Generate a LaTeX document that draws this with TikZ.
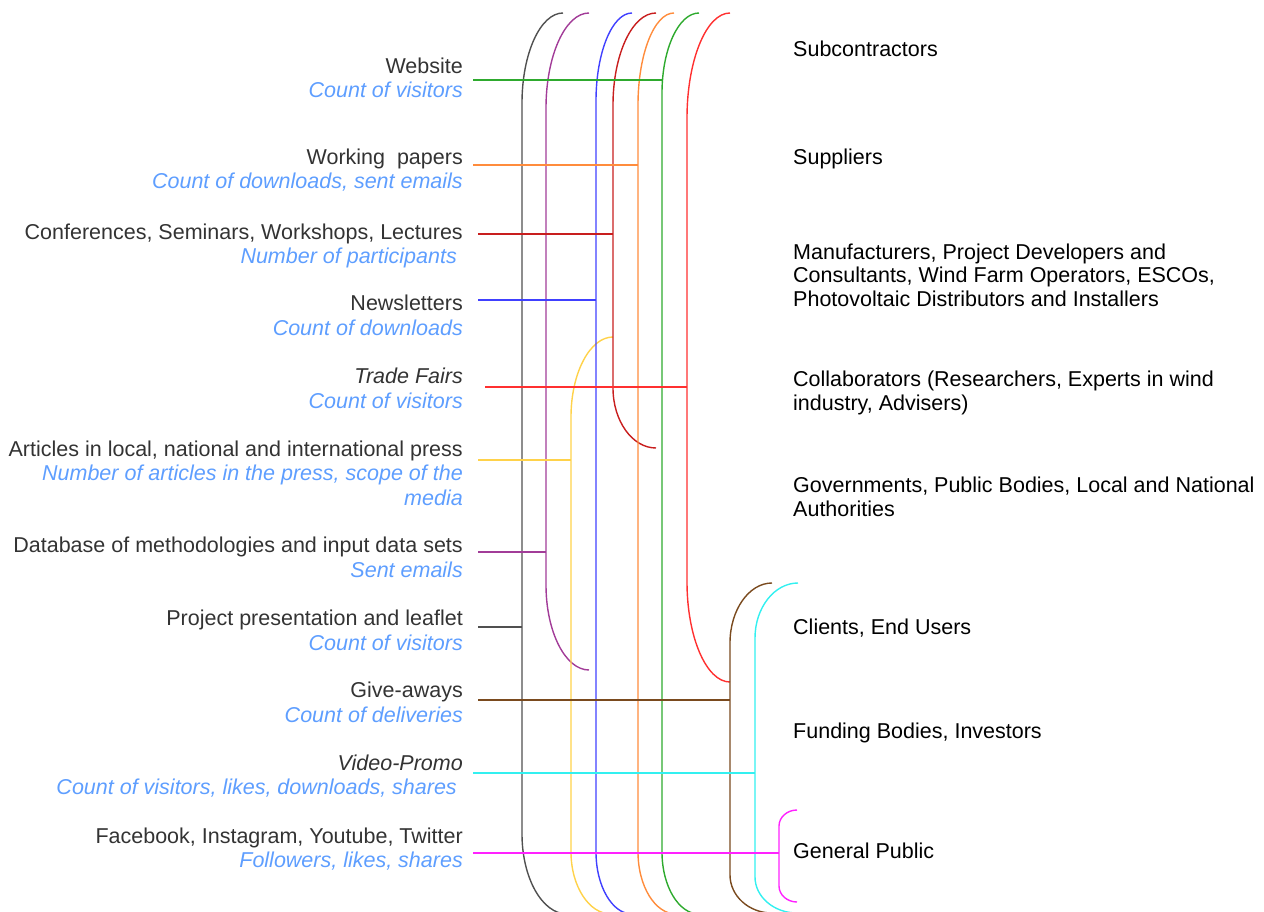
\documentclass[tikz,border=0pt]{standalone}
\usepackage{fontspec}
\setmainfont{Liberation Sans}

\definecolor{txtgray}{HTML}{333333}
\definecolor{kpiblue}{HTML}{5E9EFF}
\definecolor{cblack}{HTML}{505050}
\definecolor{cpurple}{HTML}{A23C98}
\definecolor{cgold}{HTML}{FFD24A}
\definecolor{cblue}{HTML}{4040FF}
\definecolor{cdkred}{HTML}{C81E1E}
\definecolor{corange}{HTML}{FF8C3C}
\definecolor{cgreen}{HTML}{2EAA2E}
\definecolor{clred}{HTML}{FF3030}
\definecolor{cbrown}{HTML}{7A4A1E}
\definecolor{ccyan}{HTML}{33F0F0}
\definecolor{cmagenta}{HTML}{FF22FF}

\newcommand{\kpi}[1]{{\color{kpiblue}\itshape #1}}

\begin{document}
\begin{tikzpicture}[x=1pt,y=-1pt]
        % Styles
        \tikzstyle{channel}=[anchor=base east,align=right,inner sep=0pt,text=txtgray,font=\fontsize{21.5}{24.5}\selectfont]
        \tikzstyle{group}=[anchor=base west,align=left,inner sep=0pt,font=\fontsize{21.5}{23.5}\selectfont]
        \tikzstyle{brace}=[line width=1.4pt]
        \tikzstyle{link}=[line width=1.5pt]
        \useasboundingbox (0,0) rectangle (1264,912);
        %braces: name/colour/x/top radius/top/top height/bottom radius/bottom/bottom height
        \foreach \n/\col/\x/\rx/\ya/\ha/\rb/\yb/\hb in {
            b-black/cblack/522/41/13/90/45/914/80,
            b-purple/cpurple/546/43/13/95/43/670/85,
            b-gold/cgold/571/42/337/80/40/914/62,
            b-blue/cblue/596/36/13/88/36/914/62,
            b-dkred/cdkred/613/43/13/92/43/448/60,
            b-orange/corange/638/36/13/92/38/914/62,
            b-green/cgreen/662/37/13/80/37/914/62,
            b-lred/clred/687/43/13/105/43/682/100,
            b-brown/cbrown/730/42/583/60/42/913/38,
            b-cyan/ccyan/755/43/583/55/42/913/36,
            b-pink/cmagenta/779/18/810/16/18/902/16}
        {
            \draw[brace,\col] (\x+\rx,\ya) .. controls (\x+0.45*\rx,\ya) and (\x,\ya+0.45*\ha) .. (\x,\ya+\ha)
                -- (\x,\yb-\hb) .. controls (\x,\yb-0.45*\hb) and (\x+0.45*\rb,\yb) .. (\x+\rb,\yb);
            \coordinate (\n) at (\x,\ya+\ha);
        }
        %channels (placed at the baseline of their last line)
        \node[channel] (web) at (463,98) {Website\\\kpi{Count of visitors}};
        \node[channel] (papers) at (463,189) {Working\ \ papers\\\kpi{Count of downloads, sent emails}};
        \node[channel] (conf) at (463,263.5) {Conferences, Seminars, Workshops, Lectures\\\kpi{Number of participants}\hspace*{6pt}};
        \node[channel] (news) at (463,335) {Newsletters\\\kpi{Count of downloads}};
        \node[channel] (trade) at (463,408) {{\itshape Trade Fairs}\\\kpi{Count of visitors}};
        \node[channel] (press) at (463,505) {Articles in local, national and international press\\\kpi{Number of articles in the press, scope of the}\\\kpi{media}};
        \node[channel] (data) at (463,577) {Database of methodologies and input data sets\\\kpi{Sent emails}};
        \node[channel] (leaflet) at (463,650) {Project presentation and leaflet\\\kpi{Count of visitors}};
        \node[channel] (gifts) at (463,722) {Give-aways\\\kpi{Count of deliveries}};
        \node[channel] (video) at (463,794.5) {{\itshape Video-Promo}\\\kpi{Count of visitors, likes, downloads, shares}\hspace*{6pt}};
        \node[channel] (social) at (463,867.5) {Facebook, Instagram, Youtube, Twitter\\\kpi{Followers, likes, shares}};
        %stakeholders
        \node[group] (subc) at (793,57) {Subcontractors};
        \node[group] (supp) at (793,165) {Suppliers};
        \node[group] (manuf) at (793,306) {Manufacturers, Project Developers and\\Consultants, Wind Farm Operators, ESCOs,\\Photovoltaic Distributors and Installers};
        \node[group] (collab) at (793,410) {Collaborators (Researchers, Experts in wind\\industry, Advisers)};
        \node[group] (gov) at (793,516) {Governments, Public Bodies, Local and National\\Authorities};
        \node[group] (clients) at (793,634) {Clients, End Users};
        \node[group] (funding) at (793,738) {Funding Bodies, Investors};
        \node[group] (public) at (793,858) {General Public};
        %links from channels to braces
        \foreach \n/\col/\y/\xa/\br in {web/cgreen/80/473/b-green, papers/corange/165/473/b-orange,
            conf/cdkred/234/478/b-dkred, news/cblue/300/478/b-blue, trade/clred/387/485/b-lred,
            press/cgold/460/478/b-gold, data/cpurple/552/478/b-purple, leaflet/cblack/627/478/b-black,
            gifts/cbrown/700/478/b-brown, video/ccyan/773/473/b-cyan, social/cmagenta/853/473/b-pink}
        {
            \coordinate (\n-in) at (\xa,\y);
            \draw[link,\col] (\n-in) -- (\n-in -| \br);
        }
\end{tikzpicture}
\end{document}
